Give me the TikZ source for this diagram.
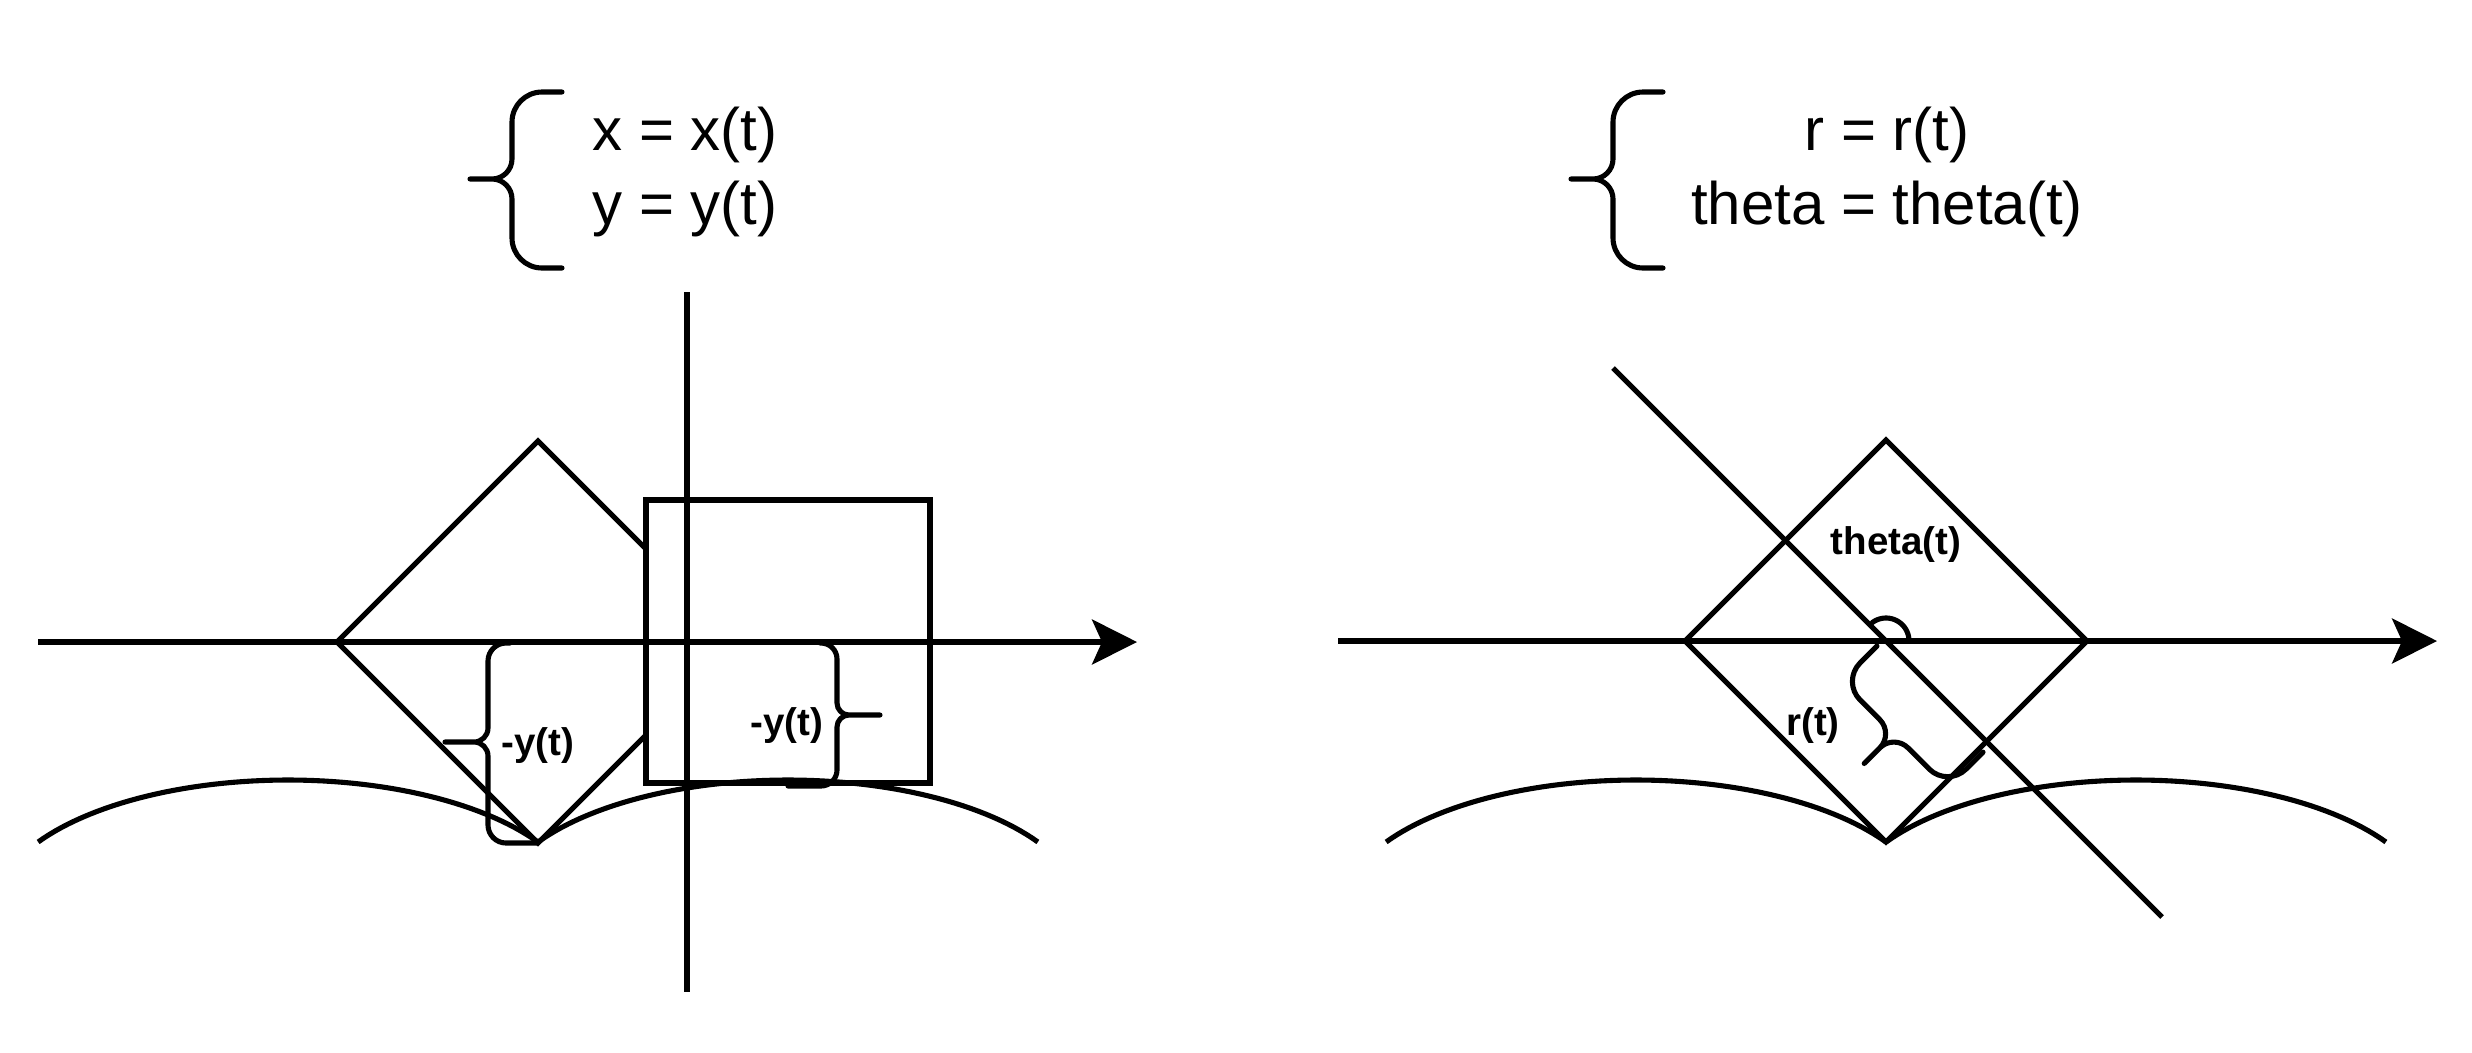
\documentclass[tikz,border=0pt]{standalone}
\usepackage{fontspec}
\setmainfont{Liberation Sans}
\usetikzlibrary{arrows.meta}
% #1 scope options, #2 L, #3 M (tip position), #4 b1, #5 b2 (hook ends), #6 S (spine), #7 T (tip), #8 r, #9 rt
\newcommand\drawbrace[9]{%
  \begin{scope}[#1]
    \draw[bracestyle] (0,#4) -- (0,{#6-#8})
      .. controls (0,{#6-0.45*#8}) and ({0.45*#8},#6) .. ({#8},#6)
      -- ({#3-#9},#6)
      .. controls ({#3-0.45*#9},#6) and (#3,{#6+0.45*#9}) .. (#3,{#6+#9})
      -- (#3,#7)
      -- (#3,{#6+#9})
      .. controls (#3,{#6+0.45*#9}) and ({#3+0.45*#9},#6) .. ({#3+#9},#6)
      -- ({#2-#8},#6)
      .. controls ({#2-0.45*#8},#6) and (#2,{#6-0.45*#8}) .. (#2,{#6-#8})
      -- (#2,#5);
  \end{scope}}
\begin{document}
\begin{tikzpicture}[x=0.1mm, y=-0.1mm,
  ln/.style={line width=1.45pt},
  bracestyle/.style={line width=1.45pt, line cap=round, line join=round},
  axisarrow/.style={line width=1.45pt, -{Stealth[length=4.5mm, width=4.5mm, inset=1mm]}},
  eqtext/.style={font=\fontsize{17.07pt}{20pt}\selectfont, inner sep=0pt},
  lab/.style={font=\bfseries\fontsize{10.96pt}{13pt}\selectfont, inner sep=0pt}]

\fill[white] (0,0) rectangle (2472,1052);
\useasboundingbox (0,0) rectangle (2472,1052);

% ---------------- left panel ----------------
\coordinate (LW) at (337,642);
\coordinate (LN) at (538,441);
\coordinate (LE) at (739,642);
\coordinate (LS) at (538,843);
\draw[ln] (LW) -- (LN) -- (LE) -- (LS) -- cycle;

\coordinate (RA) at (646,500);
\coordinate (RB) at (930,783);
\draw[ln, fill=white] (RA) rectangle (RB);

\foreach \cx in {288,788}
  \draw[ln] plot[domain=148.2:31.8, samples=60, variable=\t] ({\cx+294*cos(\t)},{911-131*sin(\t)});

\coordinate (AX0) at (38,642);
\coordinate (AX1) at (1137,642);
\draw[axisarrow] (AX0) -- (AX1);
\coordinate (AY0) at (687,292);
\coordinate (AY1) at (687,992);
\draw[ln] (AY0) -- (AY1);

\drawbrace{shift={(537,643)},x={(0mm,-0.1mm)},y={(-0.1mm,0mm)}}{200}{99}{27}{0}{49}{92}{18}{14}
\drawbrace{shift={(788,643)},x={(0mm,-0.1mm)},y={(0.1mm,0mm)}}{143}{72}{32}{0}{49}{92}{16}{12}

\node[lab, anchor=base] (ly1) at (538,755) {-y(t)};
\node[lab, anchor=base] (ly2) at (787,735) {-y(t)};

% equations left
\drawbrace{shift={(562,92)},x={(0mm,-0.1mm)},y={(-0.1mm,0mm)}}{176}{87}{0}{0}{50}{92}{30}{20}
\node[eqtext, anchor=base] (eqx) at (685,150) {x = x(t)};
\node[eqtext, anchor=base] (eqy) at (685,224) {y = y(t)};

% ---------------- right panel ----------------
\coordinate (RC) at (1886,641);
\coordinate (RW) at (1685,641);
\coordinate (RN) at (1886,440);
\coordinate (RE) at (2087,641);
\coordinate (RS) at (1886,842);
\draw[ln] (RW) -- (RN) -- (RE) -- (RS) -- cycle;

\foreach \cx in {1636,2136}
  \draw[ln] plot[domain=148.2:31.8, samples=60, variable=\t] ({\cx+294*cos(\t)},{911-131*sin(\t)});

\coordinate (DG0) at (1613,368);
\coordinate (DG1) at (2162,917);
\draw[ln] (DG0) -- (DG1);

\coordinate (BX0) at (1338,641);
\coordinate (BX1) at (2437,641);
\draw[axisarrow] (BX0) -- (BX1);

\draw[bracestyle] plot[domain=127:8, samples=40, variable=\t] ({1886+23*cos(\t)},{641-23*sin(\t)});

\drawbrace{shift={(1884,639)},x={(0.070711mm,-0.070711mm)},y={(-0.070711mm,-0.070711mm)}}{150}{74}{10}{10}{60}{102}{26}{20}

\node[lab, anchor=base] (lth) at (1896,554) {theta(t)};
\node[lab, anchor=base] (lr) at (1813,735) {r(t)};

% equations right
\drawbrace{shift={(1663,92)},x={(0mm,-0.1mm)},y={(-0.1mm,0mm)}}{176}{87}{0}{0}{50}{92}{30}{20}
\node[eqtext, anchor=base] (eqr) at (1887,150) {r = r(t)};
\node[eqtext, anchor=base] (eqth) at (1887,224) {theta = theta(t)};

\end{tikzpicture}
\end{document}
